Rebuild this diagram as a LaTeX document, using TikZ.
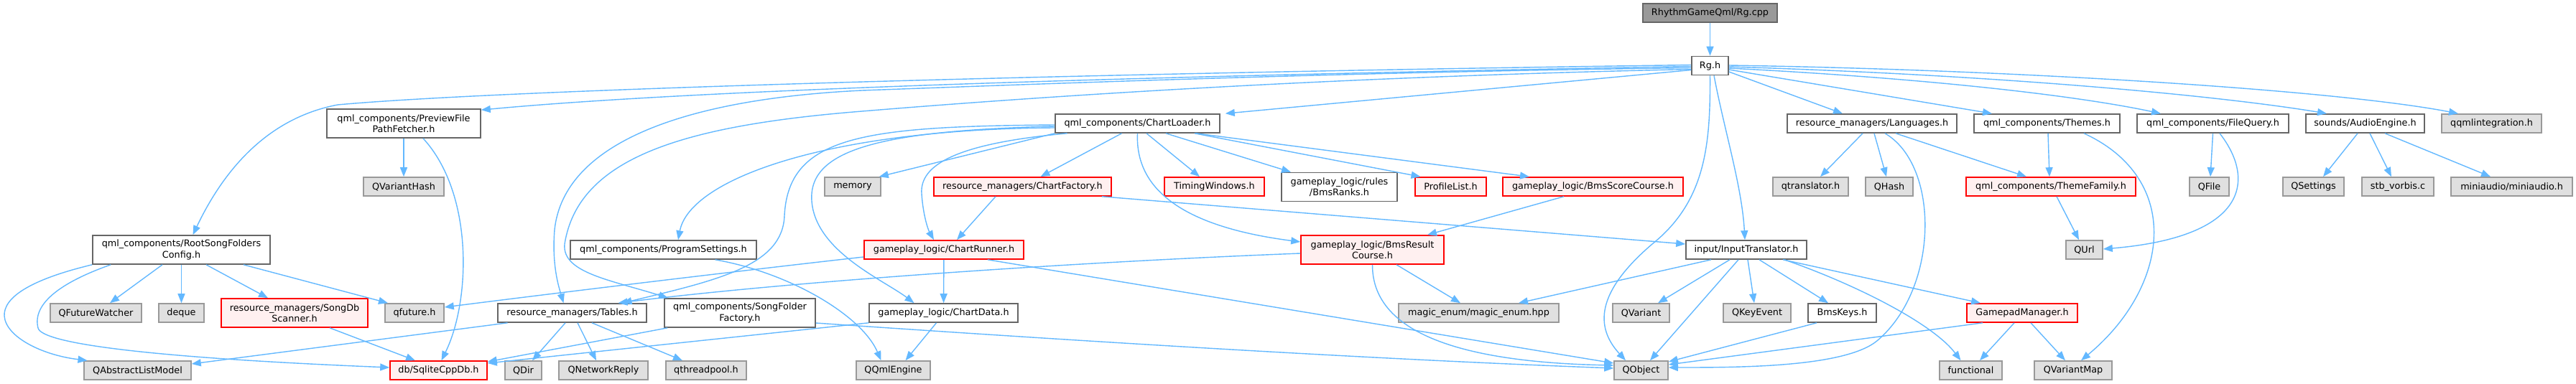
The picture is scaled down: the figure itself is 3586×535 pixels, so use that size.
\documentclass[tikz,border=0pt]{standalone}
\usepackage{fontspec}
\setmainfont{DejaVu Sans}
\usetikzlibrary{arrows.meta}
\definecolor{IncEdge}{HTML}{63B8FF}
\definecolor{IncGreyFill}{HTML}{E0E0E0}
\definecolor{IncGreyLine}{HTML}{999999}
\definecolor{IncRedFill}{HTML}{FFF0F0}
\definecolor{IncRedLine}{HTML}{FF0000}
\definecolor{IncPlainLine}{HTML}{666666}
\definecolor{IncTopFill}{HTML}{999999}

\begin{document}
\begin{tikzpicture}[x=1pt,y=-1pt,
    every node/.style={font=\fontsize{12.8}{15.4}\selectfont,inner sep=0pt,
      minimum height=26pt,align=center},
    plainbox/.style={draw=IncPlainLine,fill=white,line width=1.6pt},
    greybox/.style={draw=IncGreyLine,fill=IncGreyFill,line width=1.6pt},
    redbox/.style={draw=IncRedLine,fill=IncRedFill,line width=1.6pt},
    topbox/.style={draw=IncPlainLine,fill=IncTopFill,line width=1.6pt},
    tall/.style={minimum height=40pt},
    incarrow/.style={draw=IncEdge,line width=1.4pt,-{Triangle[length=13pt,width=10pt]}}]
  \useasboundingbox (0,0) rectangle (3586,535);

  % row 0 and 1
  \node[topbox,minimum width=187] (rgcpp) at (2380.5,18) {RhythmGameQml/Rg.cpp};
  \node[plainbox,minimum width=51] (rgh) at (2380.5,91.5) {Rg.h};

  % row 2
  \node[plainbox,tall,minimum width=214] (preview) at (562,172) {qml\_components/PreviewFile\\PathFetcher.h};
  \node[plainbox,minimum width=229] (chartloader) at (1583.5,172) {qml\_components/ChartLoader.h};
  \node[plainbox,minimum width=236] (languages) at (2606,172) {resource\_managers/Languages.h};
  \node[plainbox,minimum width=203] (themes) at (2849.5,172) {qml\_components/Themes.h};
  \node[plainbox,minimum width=211] (filequery) at (3080.5,172) {qml\_components/FileQuery.h};
  \node[plainbox,minimum width=165] (audio) at (3292.5,172) {sounds/AudioEngine.h};
  \node[greybox,minimum width=139] (qqmlint) at (3468.5,172) {qqmlintegration.h};

  % row 3
  \node[greybox,minimum width=112] (qvarianthash) at (562,260) {QVariantHash};
  \node[greybox,minimum width=78] (memory) at (1187,260) {memory};
  \node[redbox,minimum width=247] (chartfactory) at (1423.5,260) {resource\_managers/ChartFactory.h};
  \node[redbox,minimum width=139] (timing) at (1690.5,260) {TimingWindows.h};
  \node[plainbox,tall,minimum width=161] (bmsranks) at (1864.5,260.5) {gameplay\_logic/rules\\/BmsRanks.h};
  \node[redbox,minimum width=99] (profilelist) at (2019.5,260) {ProfileList.h};
  \node[redbox,minimum width=251] (scorecourse) at (2217.5,260) {gameplay\_logic/BmsScoreCourse.h};
  \node[greybox,minimum width=105] (qtranslator) at (2520.5,260) {qtranslator.h};
  \node[greybox,minimum width=66] (qhash) at (2630,260) {QHash};
  \node[redbox,minimum width=236] (themefamily) at (2855,260) {qml\_components/ThemeFamily.h};
  \node[greybox,minimum width=55] (qfile) at (3075.5,260) {QFile};
  \node[greybox,minimum width=85] (qsettings) at (3220.5,260) {QSettings};
  \node[greybox,minimum width=100] (stbvorbis) at (3338,260) {stb\_vorbis.c};
  \node[greybox,minimum width=169] (miniaudio) at (3496.5,260) {miniaudio/miniaudio.h};

  % row 4
  \node[plainbox,tall,minimum width=247] (rootfolders) at (252.5,348) {qml\_components/RootSongFolders\\Config.h};
  \node[plainbox,minimum width=259] (progsettings) at (923.5,348) {qml\_components/ProgramSettings.h};
  \node[redbox,minimum width=222] (chartrunner) at (1314,348) {gameplay\_logic/ChartRunner.h};
  \node[redbox,tall,minimum width=199] (resultcourse) at (1910.5,348) {gameplay\_logic/BmsResult\\Course.h};
  \node[plainbox,minimum width=168] (inputtrans) at (2431,348) {input/InputTranslator.h};
  \node[greybox,minimum width=51] (qurl) at (2901.5,348) {QUrl};

  % row 5
  \node[greybox,minimum width=127] (futurewatcher) at (133.5,436) {QFutureWatcher};
  \node[greybox,minimum width=63] (deque) at (252.5,436) {deque};
  \node[redbox,tall,minimum width=204] (songdbscanner) at (410,436) {resource\_managers/SongDb\\Scanner.h};
  \node[greybox,minimum width=82] (qfuture) at (577,436) {qfuture.h};
  \node[plainbox,minimum width=207] (tables) at (796.5,436) {resource\_managers/Tables.h};
  \node[plainbox,tall,minimum width=210] (folderfactory) at (1030,436) {qml\_components/SongFolder\\Factory.h};
  \node[plainbox,minimum width=207] (chartdata) at (1313.5,436) {gameplay\_logic/ChartData.h};
  \node[greybox,minimum width=223] (magicenum) at (2058.5,436) {magic\_enum/magic\_enum.hpp};
  \node[greybox,minimum width=79] (qvariant) at (2284.5,436) {QVariant};
  \node[greybox,minimum width=94] (qkeyevent) at (2446,436) {QKeyEvent};
  \node[plainbox,minimum width=95] (bmskeys) at (2564.5,436) {BmsKeys.h};
  \node[redbox,minimum width=154] (gamepad) at (2815,436) {GamepadManager.h};

  % row 6
  \node[greybox,minimum width=149] (qabstract) at (191.5,516) {QAbstractListModel};
  \node[redbox,minimum width=135] (sqlitedb) at (610.5,516) {db/SqliteCppDb.h};
  \node[greybox,minimum width=51] (qdir) at (728.5,516) {QDir};
  \node[greybox,minimum width=124] (qnetwork) at (840,516) {QNetworkReply};
  \node[greybox,minimum width=112] (qthreadpool) at (983,516) {qthreadpool.h};
  \node[greybox,minimum width=103] (qqmlengine) at (1243.5,516) {QQmlEngine};
  \node[greybox,minimum width=75] (qobject) at (2284.5,516) {QObject};
  \node[greybox,minimum width=87] (functional) at (2743.5,516) {functional};
  \node[greybox,minimum width=108] (qvariantmap) at (2886,516) {QVariantMap};

  % Rg.cpp and Rg.h
  \draw[incarrow] (rgcpp) -- (rgh);
  \draw[incarrow] ([yshift=-8.5pt]rgh.east) -- ([xshift=-41pt]languages.north);
  \draw[incarrow] ([yshift=-5.5pt]rgh.east) -- ([xshift=-76.5pt]themes.north);
  \draw[incarrow] ([yshift=-3.5pt]rgh.east) .. controls (2700,110) and (2900,135) .. ([xshift=-72.5pt]filequery.north);
  \draw[incarrow] ([yshift=-1.5pt]rgh.east) .. controls (2800,105) and (3100,135) .. ([xshift=-53.5pt]audio.north);
  \draw[incarrow] ([yshift=0.5pt]rgh.east) .. controls (2800,97) and (3250,125) .. ([xshift=-46.5pt]qqmlint.north);
  \draw[incarrow] ([xshift=5.5pt]rgh.south) .. controls (2400,180) and (2425,260) .. ([xshift=-2pt]inputtrans.north);
  \draw[incarrow] (rgh.south) .. controls (2381,200) and (2375,280) .. (2300,340)
    .. controls (2230,400) and (2215,450) .. ([xshift=-21.5pt]qobject.north);
  \draw[incarrow] ([yshift=1pt]rgh.west) .. controls (1500,102) and (700,125) .. (470,146)
    .. controls (370,165) and (310,240) .. ([xshift=16pt]rootfolders.north);
  \draw[incarrow] ([yshift=-1pt]rgh.west) .. controls (1700,104) and (1000,122) .. ([yshift=-2pt]preview.north east);
  \draw[incarrow] ([yshift=-3pt]rgh.west) .. controls (1900,100) and (1500,115) .. (1200,126)
    .. controls (950,138) and (785,200) .. (772,320)
    .. controls (768,370) and (778,400) .. ([xshift=-12pt]tables.north);
  \draw[incarrow] ([yshift=-5pt]rgh.west) .. controls (2000,104) and (1600,122) .. (1200,155)
    .. controls (950,175) and (805,220) .. (786,340)
    .. controls (782,380) and (850,390) .. ([xshift=-100pt]folderfactory.north);
  \draw[incarrow] ([yshift=-6pt]rgh.west) -- ([xshift=7pt]chartloader.north east);

  % ChartLoader
  \draw[incarrow] (chartloader.south west) -- ([xshift=-3pt]memory.north east);
  \draw[incarrow] ([xshift=-22pt]chartloader.south) -- ([xshift=25pt]chartfactory.north);
  \draw[incarrow] ([xshift=12.5pt]chartloader.south) -- ([xshift=-20.5pt]timing.north);
  \draw[incarrow] ([xshift=39.5pt]chartloader.south) -- ([xshift=-67.5pt]bmsranks.north);
  \draw[incarrow] ([xshift=79.5pt]chartloader.south) -- ([xshift=-42pt]profilelist.north);
  \draw[incarrow] ([xshift=81.5pt]chartloader.south) -- ([xshift=-88.5pt]scorecourse.north);
  \draw[incarrow] (chartloader.south) .. controls (1580,260) and (1640,315) .. ([yshift=11pt]resultcourse.west);
  \draw[incarrow] ([xshift=-98pt]chartloader.south) .. controls (1330,200) and (1280,230) .. (1283,270)
    .. controls (1285,300) and (1292,320) .. ([xshift=-14pt]chartrunner.north);
  \draw[incarrow] ([yshift=-6pt]chartloader.west) .. controls (1150,180) and (960,250) .. ([xshift=20.5pt]progsettings.north);
  \draw[incarrow] ([yshift=-2pt]chartloader.west) .. controls (1200,176) and (1098,190) .. (1092,300)
    .. controls (1090,370) and (1000,390) .. ([xshift=70pt]tables.north);
  \draw[incarrow] ([yshift=-4pt]chartloader.west) .. controls (1220,182) and (1125,210) .. (1130,280)
    .. controls (1135,350) and (1230,390) .. ([xshift=-41pt]chartdata.north);

  % ChartFactory, ChartRunner, ChartData
  \draw[incarrow] ([xshift=-37.5pt]chartfactory.south) -- ([xshift=18pt]chartrunner.north);
  \draw[incarrow] ([xshift=110.5pt]chartfactory.south) -- ([yshift=8pt]inputtrans.west);
  \draw[incarrow] (chartrunner) -- (chartdata);
  \draw[incarrow] ([yshift=-10pt]chartrunner.west) .. controls (1050,375) and (800,405) .. ([yshift=8pt]qfuture.east);
  \draw[incarrow] ([xshift=61pt]chartrunner.south) -- ([yshift=10pt]qobject.west);
  \draw[incarrow] ([xshift=-10pt]chartdata.south) -- ([xshift=17pt]qqmlengine.north);
  \draw[incarrow] (chartdata.south west) -- ([yshift=10pt]sqlitedb.east);
  \draw[incarrow] ([xshift=72pt]progsettings.south) .. controls (1100,380) and (1200,440) .. ([xshift=-17pt]qqmlengine.north);

  % Tables, SongFolderFactory
  \draw[incarrow] ([xshift=-90pt]tables.south) -- ([yshift=9pt]qabstract.east);
  \draw[incarrow] ([xshift=-9.5pt]tables.south) -- ([xshift=12.5pt]qdir.north);
  \draw[incarrow] ([xshift=7.5pt]tables.south) -- ([xshift=-10pt]qnetwork.north);
  \draw[incarrow] ([xshift=27.5pt]tables.south) -- ([xshift=-33pt]qthreadpool.north);
  \draw[incarrow] ([xshift=5pt]folderfactory.south west) -- ([yshift=12pt]sqlitedb.east);
  \draw[incarrow] ([yshift=-14pt]folderfactory.east) .. controls (1500,475) and (1900,500) .. ([yshift=3pt]qobject.west);

  % PreviewFilePathFetcher, RootSongFoldersConfig
  \draw[incarrow] (preview) -- (qvarianthash);
  \draw[incarrow] ([xshift=27pt]preview.south) .. controls (660,270) and (655,420) .. ([xshift=4pt]sqlitedb.north);
  \draw[incarrow] ([xshift=-26.5pt]rootfolders.south) -- ([xshift=19.5pt]futurewatcher.north);
  \draw[incarrow] (rootfolders) -- (deque);
  \draw[incarrow] ([xshift=34.5pt]rootfolders.south) -- ([xshift=-37pt]songdbscanner.north);
  \draw[incarrow] ([xshift=86.5pt]rootfolders.south) -- ([xshift=-37pt]qfuture.north);
  \draw[incarrow] (rootfolders.south west) .. controls (40,390) and (5,415) .. (6,440)
    .. controls (8,470) and (60,495) .. ([xshift=-70pt]qabstract.north);
  \draw[incarrow] ([xshift=26pt]rootfolders.south west) .. controls (80,395) and (45,425) .. (53,457)
    .. controls (58,478) and (200,498) .. ([yshift=4pt]sqlitedb.west);
  \draw[incarrow] ([xshift=49pt]songdbscanner.south) -- ([xshift=-32.5pt]sqlitedb.north);

  % BmsScoreCourse, BmsResultCourse
  \draw[incarrow] ([xshift=-40.5pt]scorecourse.south) -- ([xshift=76.5pt]resultcourse.north);
  \draw[incarrow] ([yshift=-5pt]resultcourse.west) .. controls (1500,365) and (1100,392) .. ([xshift=64pt]tables.north);
  \draw[incarrow] ([xshift=33.5pt]resultcourse.south) -- ([xshift=-25.5pt]magicenum.north);
  \draw[incarrow] (resultcourse.south) .. controls (1910,470) and (2050,505) .. ([yshift=7pt]qobject.west);

  % InputTranslator
  \draw[incarrow] ([xshift=-49pt]inputtrans.south) -- ([xshift=55.5pt]magicenum.north);
  \draw[incarrow] ([xshift=-23pt]inputtrans.south) -- ([xshift=23.5pt]qvariant.north);
  \draw[incarrow] ([xshift=-11pt]inputtrans.south) -- ([xshift=12.5pt]qobject.north);
  \draw[incarrow] ([xshift=2pt]inputtrans.south) -- ([xshift=-4pt]qkeyevent.north);
  \draw[incarrow] ([xshift=18pt]inputtrans.south) -- ([xshift=-19.5pt]bmskeys.north);
  \draw[incarrow] ([xshift=51pt]inputtrans.south) -- ([xshift=-58pt]gamepad.north);
  \draw[incarrow] ([xshift=53pt]inputtrans.south) .. controls (2580,395) and (2690,450) .. ([xshift=-14pt]functional.north);
  \draw[incarrow] ([xshift=-35.5pt]bmskeys.south) -- ([yshift=12pt]qobject.east);
  \draw[incarrow] ([xshift=-55pt]gamepad.south) -- ([yshift=8pt]qobject.east);
  \draw[incarrow] ([xshift=-11pt]gamepad.south) -- ([xshift=12.5pt]functional.north);
  \draw[incarrow] ([xshift=12pt]gamepad.south) -- ([xshift=-11pt]qvariantmap.north);

  % Languages, Themes, FileQuery, AudioEngine
  \draw[incarrow] ([xshift=-13pt]languages.south) -- ([xshift=13.5pt]qtranslator.north);
  \draw[incarrow] ([xshift=3pt]languages.south) -- ([xshift=-4pt]qhash.north);
  \draw[incarrow] ([xshift=33pt]languages.south) -- ([xshift=-34pt]themefamily.north);
  \draw[incarrow] ([xshift=18pt]languages.south) .. controls (2700,230) and (2700,400) .. (2614,474)
    .. controls (2570,512) and (2420,512) .. ([yshift=4pt]qobject.east);
  \draw[incarrow] ([xshift=1.5pt]themes.south) -- ([xshift=-2pt]themefamily.north);
  \draw[incarrow] ([xshift=51.5pt]themes.south) .. controls (3040,250) and (3020,400) .. ([xshift=11pt]qvariantmap.north);
  \draw[incarrow] ([xshift=8pt]themefamily.south) -- ([xshift=-7.5pt]qurl.north);
  \draw[incarrow] (filequery.south) -- ([xshift=1.5pt]qfile.north);
  \draw[incarrow] ([xshift=9.5pt]filequery.south) .. controls (3140,250) and (3130,330) .. ([yshift=1pt]qurl.east);
  \draw[incarrow] ([xshift=-10.5pt]audio.south) -- ([xshift=13.5pt]qsettings.north);
  \draw[incarrow] ([xshift=6.5pt]audio.south) -- ([xshift=-9pt]stbvorbis.north);
  \draw[incarrow] ([xshift=27.5pt]audio.south) -- ([xshift=-29.5pt]miniaudio.north);
\end{tikzpicture}
\end{document}
